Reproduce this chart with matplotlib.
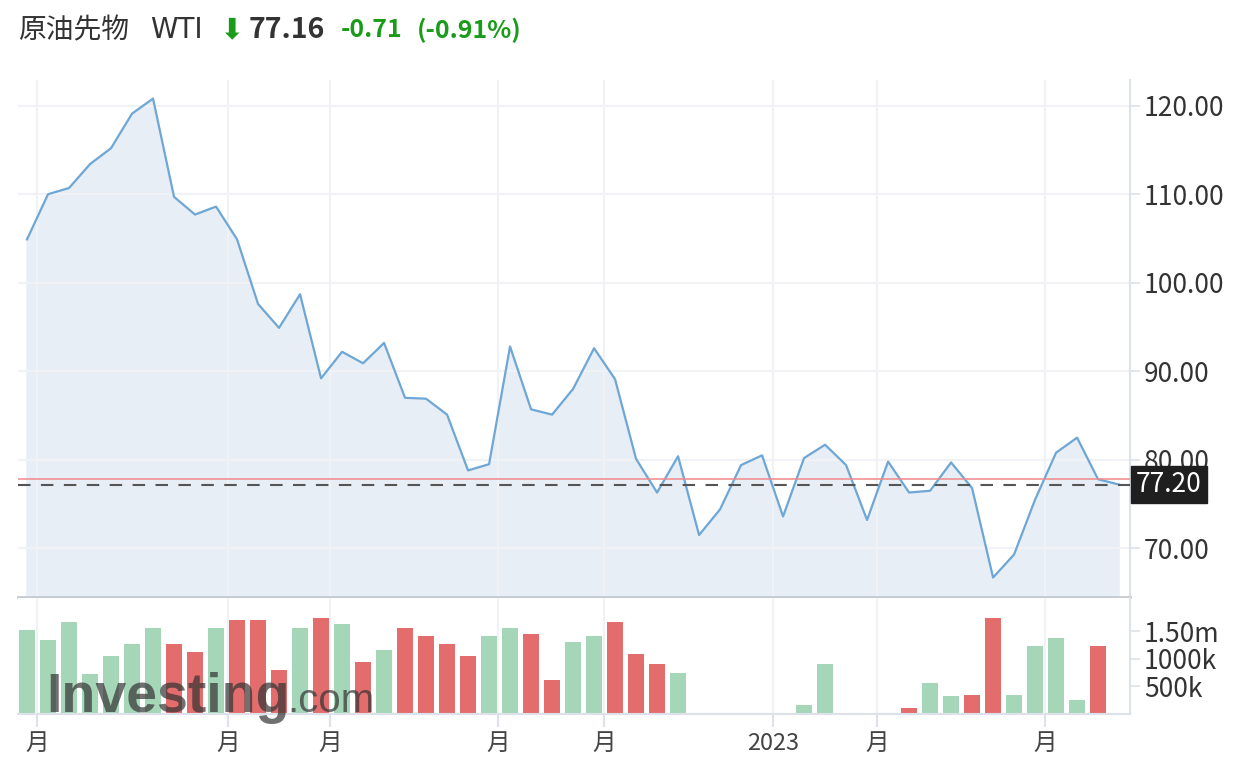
import numpy as np
import matplotlib
matplotlib.use("Agg")
import matplotlib.pyplot as plt
import matplotlib.transforms as mtransforms

# Schriften: CJK zuerst, DejaVu als Fallback
plt.rcParams['font.family'] = ['Noto Sans CJK JP', 'DejaVu Sans']

# Wochenwerte WTI (Schlusskurs)
price = [104.9, 110.0, 110.7, 113.4, 115.2, 119.1, 120.8, 109.7, 107.7, 108.6,
         104.9, 97.6, 94.9, 98.7, 89.2, 92.2, 90.9, 93.2, 87.0, 86.9,
         85.1, 78.8, 79.5, 92.8, 85.7, 85.1, 88.0, 92.6, 89.1, 80.1,
         76.3, 80.4, 71.5, 74.4, 79.4, 80.5, 73.6, 80.2, 81.7, 79.4,
         73.2, 79.8, 76.3, 76.5, 79.7, 76.8, 66.7, 69.3, 75.5, 80.8,
         82.5, 77.8, 77.2]

# Volumen in Millionen
volume = [1.52, 1.34, 1.66, 0.72, 1.05, 1.26, 1.55, 1.26, 1.12, 1.55,
          1.70, 1.70, 0.79, 1.55, 1.74, 1.63, 0.94, 1.15, 1.55, 1.41,
          1.26, 1.05, 1.41, 1.55, 1.45, 0.61, 1.30, 1.41, 1.66, 1.08,
          0.90, 0.75, 0.0, 0.0, 0.0, 0.0, 0.0, 0.17, 0.90, 0.0,
          0.0, 0.0, 0.10, 0.57, 0.32, 0.35, 1.74, 0.35, 1.23, 1.37,
          0.25, 1.23, 0.0]

last_price = 77.20
prev_close = 77.87

# Monatsanfaenge (zwischen den Wochenpunkten) und Beschriftungen
month_pos = [0.48, 9.57, 14.43, 22.43, 27.48, 35.52, 40.48, 48.48]
month_labels = ['月', '月', '月', '月', '月', '2023', '月', '月']

price_ticks = [70, 80, 90, 100, 110, 120]
vol_ticks = [0.5, 1.0, 1.5]
vol_labels = ['500k', '1000k', '1.50m']

x = np.arange(len(price))

W, H = 1238, 764
fig = plt.figure(figsize=(W / 100, H / 100), dpi=100)
fig.patch.set_facecolor('white')

ax = fig.add_axes([18 / W, 1 - 597 / H, (1130 - 18) / W, (597 - 80) / H])
axv = fig.add_axes([18 / W, 1 - 714 / H, (1130 - 18) / W, (714 - 598) / H], sharex=ax)

grid_col = '#f1f2f5'
axis_col = '#dde2ea'

# Preis-Panel
ax.fill_between(x, price, 0, color='#e7eef6', zorder=1)
ax.plot(x, price, color='#6ea7d6', lw=1.6, zorder=3)
ax.axhline(prev_close, color='#f08a8a', lw=1.1, zorder=4)
ax.axhline(last_price, color='#555555', lw=1.5, dashes=(6, 5), zorder=4)

ax.set_xlim(-0.43, 52.52)
ax.set_ylim(64.5, 122.9)
ax.set_yticks(price_ticks)
ax.set_yticklabels([f'{v:.2f}' for v in price_ticks])
ax.yaxis.tick_right()
ax.set_xticks(month_pos)
ax.grid(True, color=grid_col, lw=1.5, zorder=0)
ax.tick_params(axis='y', length=7, width=1.2, color=axis_col, labelsize=19,
               labelcolor='#333333', pad=3)
ax.tick_params(axis='x', length=0, labelbottom=False)
for s in ['left', 'top']:
    ax.spines[s].set_visible(False)
ax.spines['right'].set_color(axis_col)
ax.spines['right'].set_linewidth(1.5)
ax.spines['bottom'].set_color('#c6cad1')
ax.spines['bottom'].set_linewidth(2)

# aktueller Kurs als Label rechts (ueberdeckt im Original teilweise "80.00")
trans = mtransforms.blended_transform_factory(ax.transAxes, ax.transData)
ax.text(1.0 + 6 / 1112, last_price, f'{last_price:.2f}', transform=trans,
        ha='left', va='center', color='white', fontsize=19, zorder=6,
        bbox=dict(boxstyle='square,pad=0.2', facecolor='#1f1f1f', edgecolor='#1f1f1f'),
        clip_on=False)

# Volumen-Panel
colors = ['#a6d6b8']
for i in range(1, len(price)):
    colors.append('#a6d6b8' if price[i] >= price[i - 1] else '#e36d6d')
axv.bar(x, volume, width=0.78, color=colors, zorder=2)
axv.set_ylim(0, 2.1)
axv.set_yticks(vol_ticks)
axv.set_yticklabels(vol_labels)
axv.yaxis.tick_right()
axv.set_xticks(month_pos)
axv.set_xticklabels(month_labels)
axv.grid(True, axis='x', color=grid_col, lw=1.5, zorder=0)
axv.tick_params(axis='y', length=7, width=1.2, color=axis_col, labelsize=19,
                labelcolor='#333333', pad=3)
axv.tick_params(axis='x', length=9, width=1.5, color=axis_col, labelsize=17,
                labelcolor='#444444', pad=4)
for s in ['left', 'top']:
    axv.spines[s].set_visible(False)
for s in ['right', 'bottom']:
    axv.spines[s].set_color(axis_col)
    axv.spines[s].set_linewidth(1.5)

# Wasserzeichen
fig.text(46 / W, 1 - 712 / H, 'Investing', fontsize=40, fontweight='bold',
         family=['Liberation Sans', 'DejaVu Sans'], color='#333333',
         alpha=0.7, ha='left', va='baseline', zorder=10)
fig.text(287 / W, 1 - 712 / H, '.com', fontsize=29,
         family=['Liberation Sans', 'DejaVu Sans'], color='#333333',
         alpha=0.7, ha='left', va='baseline', zorder=10)

# Kopfzeile
ty = 1 - 30 / H
fig.text(18 / W, ty, '原油先物', fontsize=20, color='#333333', ha='left', va='center')
fig.text(150 / W, ty, 'WTI', fontsize=20, color='#333333', ha='left', va='center',
         family=['DejaVu Sans'])
fig.text(219 / W, ty, '\u2b07', fontsize=21, color='#1a9c1a', ha='left', va='center',
         family=['DejaVu Sans'])
fig.text(249 / W, ty, '77.16', fontsize=20.5, fontweight='bold', color='#333333',
         ha='left', va='center')
fig.text(341 / W, ty, '-0.71', fontsize=18, fontweight='bold', color='#1a9c1a',
         ha='left', va='center')
fig.text(417 / W, ty, '(-0.91%)', fontsize=18, fontweight='bold', color='#1a9c1a',
         ha='left', va='center')

fig.savefig('out.png', dpi=100)
